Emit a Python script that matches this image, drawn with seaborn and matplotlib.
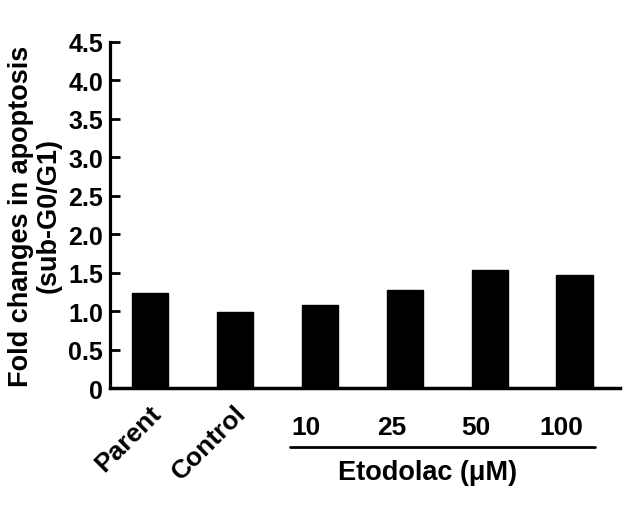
import matplotlib
matplotlib.use("Agg")
import matplotlib.pyplot as plt
import seaborn as sns
import pandas as pd

categories = ["Parent", "Control", "10", "25", "50", "100"]
values = [1.24, 0.99, 1.08, 1.27, 1.54, 1.47]
yticks = [0, 0.5, 1.0, 1.5, 2.0, 2.5, 3.0, 3.5, 4.0, 4.5]
ytick_labels = ["0", "0.5", "1.0", "1.5", "2.0", "2.5", "3.0", "3.5", "4.0", "4.5"]

sns.set_style("ticks")
plt.rcParams['font.family'] = ['Liberation Sans', 'DejaVu Sans']
plt.rcParams['font.weight'] = 'bold'
for k in ['text.color', 'axes.labelcolor', 'xtick.color', 'ytick.color', 'axes.edgecolor']:
    plt.rcParams[k] = 'black'

df = pd.DataFrame({"cat": categories, "val": values})

fig = plt.figure(figsize=(6.26, 5.10), dpi=100)
ax = fig.add_axes([0.176, 0.237, 0.814, 0.679])
sns.barplot(data=df, x="cat", y="val", color="black", width=0.43, ax=ax,
            saturation=1, edgecolor="black")

ax.set_ylim(0, 4.5)
ax.set_xlim(-0.47, 5.53)
ax.set_yticks(yticks)
ax.set_yticklabels(ytick_labels, fontsize=18, fontweight='bold', color='black')
ax.tick_params(axis='y', direction='in', length=7.5, width=2, pad=5)
ax.tick_params(axis='x', length=0, pad=4)
ax.set_xticks(range(len(categories)))
ax.set_xticklabels([])
for i, lab in enumerate(categories):
    if i < 2:
        ax.text(i - 0.01, -0.035, lab, transform=ax.get_xaxis_transform(),
                rotation=45, ha='right', va='top', fontsize=19,
                fontweight='bold', rotation_mode='anchor', color='black')
    else:
        ax.text(i - 0.16, -0.078, lab, transform=ax.get_xaxis_transform(),
                ha='center', va='top', fontsize=19, fontweight='bold',
                color='black')

ax.set_xlabel("")
ax.set_ylabel("Fold changes in apoptosis\n(sub-G0/G1)", fontsize=19.5,
              fontweight='bold', labelpad=5, linespacing=1.05)
for s in ["top", "right"]:
    ax.spines[s].set_visible(False)
ax.spines["left"].set_linewidth(2.3)
ax.spines["bottom"].set_linewidth(2.5)

# bracket line under dose labels
ax.plot([1.65, 5.24], [-0.17, -0.17], transform=ax.get_xaxis_transform(),
        color="black", lw=2, clip_on=False)
ax.text(3.27, -0.205, "Etodolac (\u03bcM)", transform=ax.get_xaxis_transform(),
        ha='center', va='top', fontsize=19.5, fontweight='bold', color='black')

fig.savefig("out.png", dpi=100)
